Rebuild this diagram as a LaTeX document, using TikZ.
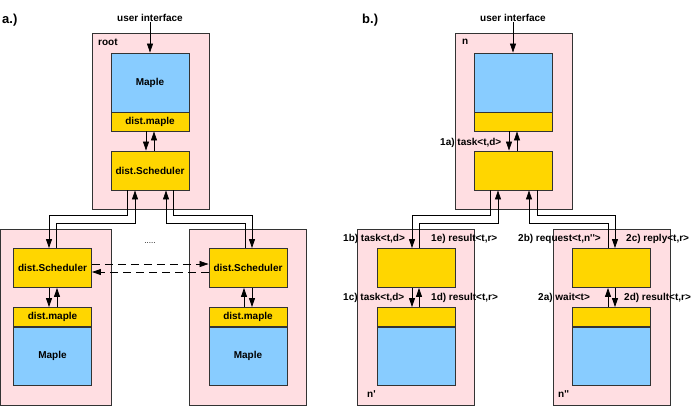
\documentclass[tikz,border=0pt]{standalone}
\usepackage{fontspec}
\setmainfont{Liberation Sans}[Ligatures=TeXOff]
\usepackage{tikz}
\usetikzlibrary{arrows.meta,calc,positioning}
\definecolor{hostpink}{RGB}{255,222,226}
\definecolor{mapleblue}{RGB}{136,204,255}
\definecolor{distgold}{RGB}{255,214,0}
\definecolor{edgegray}{RGB}{51,51,51}

\tikzset{
  hostbox/.style={draw=edgegray,fill=hostpink,line width=0.9pt,minimum width=117pt,minimum height=176pt,inner sep=0pt},
  maplebox/.style={draw=edgegray,fill=mapleblue,line width=0.9pt,minimum width=78pt,minimum height=59pt,inner sep=0pt,font=\bfseries\fontsize{10}{12}\selectfont},
  distbox/.style={draw=edgegray,fill=distgold,line width=0.9pt,minimum width=78pt,minimum height=19pt,inner sep=0pt,font=\bfseries\fontsize{10}{12}\selectfont},
  schedbox/.style={draw=edgegray,fill=distgold,line width=0.9pt,minimum width=78pt,minimum height=39pt,inner sep=0pt,font=\bfseries\fontsize{10}{12}\selectfont},
  lbl/.style={font=\bfseries\fontsize{10}{12}\selectfont,inner sep=0pt},
  arr/.style={-{Triangle[length=9pt,width=6pt]},line width=0.75pt},
}

\begin{document}
\begin{tikzpicture}[x=1pt,y=-1pt]
\useasboundingbox (0,0) rectangle (692,416);

% a.) hosts
\node[lbl,anchor=west,font=\bfseries\fontsize{13}{15}\selectfont] (tagA) at (2,20) {a.)};
\node[hostbox] (root) at (150.5,121) {};
\node[hostbox,minimum width=111pt] (hostL) at (55.5,317) {};
\node[hostbox] (hostR) at (248,317) {};
\node[lbl,anchor=west] (rootname) at (98,42) {root};

\node[maplebox] (rootM) at (150,82.5) {Maple};
\node[distbox] (rootD) at (150,121.5) {dist.maple};
\node[schedbox] (rootS) at (150,170.5) {dist.Scheduler};

\node[schedbox] (leftS) at (52.5,268) {dist.Scheduler};
\node[distbox] (leftD) at (52.5,317) {dist.maple};
\node[maplebox,minimum height=58pt] (leftM) at (52.5,356) {Maple};

\node[schedbox] (rightS) at (248,268) {dist.Scheduler};
\node[distbox] (rightD) at (248,317) {dist.maple};
\node[maplebox,minimum height=58pt] (rightM) at (248,356) {Maple};

\node[lbl] (uiA) at (150,18) {user interface};
\node[font=\fontsize{8}{10}\selectfont] (dotsA) at (150,243) {.....};

\path[arr]
(uiA) edge (rootM.north)
([xshift=-4pt]rootD.south) edge ([xshift=-4pt]rootS.north)
([xshift=4pt]rootS.north) edge ([xshift=4pt]rootD.south)
([xshift=-3.5pt]leftS.south) edge ([xshift=-3.5pt]leftD.north)
([xshift=4.5pt]leftD.north) edge ([xshift=4.5pt]leftS.south)
([xshift=-4pt]rightD.north) edge ([xshift=-4pt]rightS.south)
([xshift=4pt]rightS.south) edge ([xshift=4pt]rightD.north);

\draw[arr] ([xshift=-23pt]rootS.south) -- ++(0,25) -| ([xshift=-3.5pt]leftS.north);
\draw[arr] ([xshift=3.5pt]leftS.north) -- ++(0,-25) -| ([xshift=-15pt]rootS.south);
\draw[arr] ([xshift=-3pt]rightS.north) -- ++(0,-25) -| ([xshift=16pt]rootS.south);
\draw[arr] ([xshift=23pt]rootS.south) -- ++(0,25) -| ([xshift=4pt]rightS.north);

\draw[arr,dash pattern=on 8pt off 5pt] ([yshift=4pt]leftS.east) -- ([yshift=4pt]rightS.west);
\draw[arr,dash pattern=on 8pt off 5pt] ([yshift=-4pt]rightS.west) -- ([yshift=-4pt]leftS.east);

% b.) hosts
\node[lbl,anchor=west,font=\bfseries\fontsize{13}{15}\selectfont] (tagB) at (362,20) {b.)};
\node[hostbox] (hostN) at (513.5,121) {};
\node[hostbox] (hostN1) at (415.5,317) {};
\node[hostbox] (hostN2) at (611.5,317) {};
\node[lbl,anchor=west] (nname) at (462,42) {n};
\node[lbl,anchor=west] (n1name) at (367,394) {n'};
\node[lbl,anchor=west] (n2name) at (558,394) {n''};

\node[maplebox] (nM) at (513,82.5) {};
\node[distbox] (nD) at (513,121.5) {};
\node[schedbox] (nS) at (513,170.5) {};

\node[schedbox] (n1S) at (416,268) {};
\node[distbox] (n1D) at (416,317) {};
\node[maplebox,minimum height=58pt] (n1M) at (416,356) {};

\node[schedbox] (n2S) at (611,268) {};
\node[distbox] (n2D) at (611,317) {};
\node[maplebox,minimum height=58pt] (n2M) at (611,356) {};

\node[lbl] (uiB) at (513,18) {user interface};

\path[arr]
(uiB) edge (nM.north)
([xshift=-4pt]nD.south) edge ([xshift=-4pt]nS.north)
([xshift=4pt]nS.north) edge ([xshift=4pt]nD.south)
([xshift=-4pt]n1S.south) edge ([xshift=-4pt]n1D.north)
([xshift=3pt]n1D.north) edge ([xshift=3pt]n1S.south)
([xshift=-3pt]n2D.north) edge ([xshift=-3pt]n2S.south)
([xshift=4pt]n2S.south) edge ([xshift=4pt]n2D.north);

\draw[arr] ([xshift=-23pt]nS.south) -- ++(0,25) -| ([xshift=-4pt]n1S.north);
\draw[arr] ([xshift=3pt]n1S.north) -- ++(0,-25) -| ([xshift=-15pt]nS.south);
\draw[arr] ([xshift=-3pt]n2S.north) -- ++(0,-25) -| ([xshift=16pt]nS.south);
\draw[arr] ([xshift=24pt]nS.south) -- ++(0,25) -| ([xshift=4pt]n2S.north);

% message labels
\node[lbl,anchor=west] (m1a) at (440,143) {1a) task<t,d>};
\node[lbl,anchor=west] (m1b) at (343,239) {1b) task<t,d>};
\node[lbl,anchor=west] (m1e) at (431,239) {1e) result<t,r>};
\node[lbl,anchor=west] (m1c) at (343,298) {1c) task<t,d>};
\node[lbl,anchor=west] (m1d) at (431,298) {1d) result<t,r>};
\node[lbl,anchor=west] (m2b) at (518,239) {2b) request<t,n''>};
\node[lbl,anchor=west] (m2c) at (626,239) {2c) reply<t,r>};
\node[lbl,anchor=west] (m2a) at (538,298) {2a) wait<t>};
\node[lbl,anchor=west] (m2d) at (624,298) {2d) result<t,r>};
\end{tikzpicture}
\end{document}
